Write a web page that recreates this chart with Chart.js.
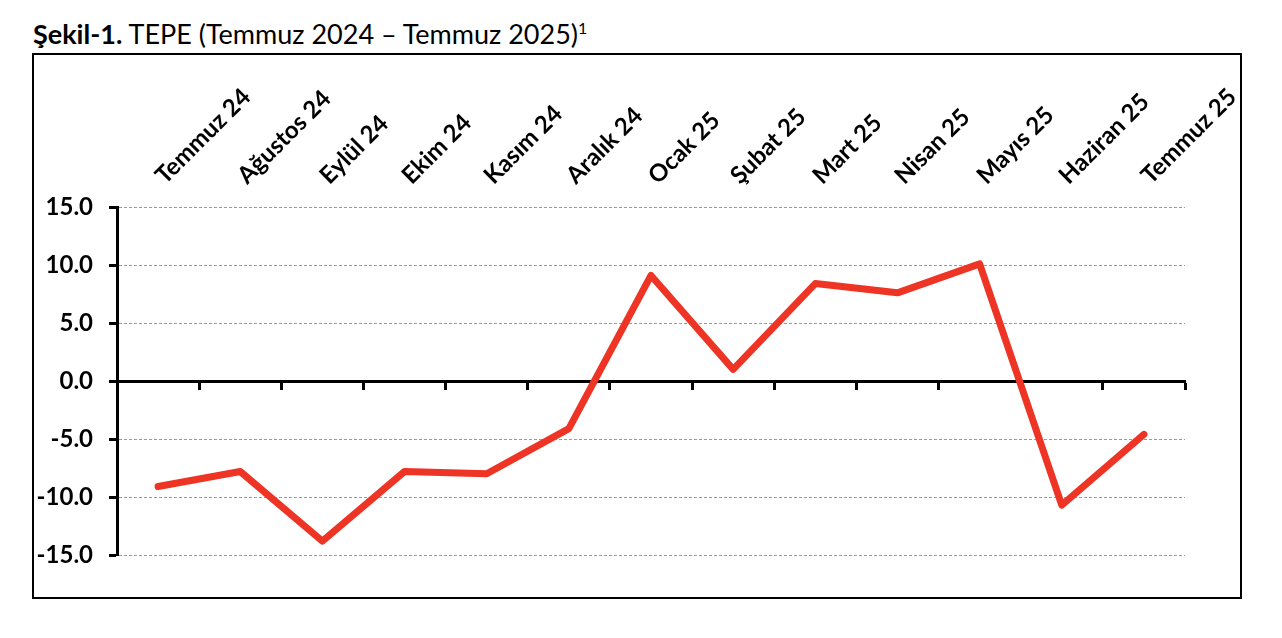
<!DOCTYPE html>
<html lang="tr">
<head>
    <meta charset="UTF-8">
    <title>Şekil-1. TEPE</title>
    <script src="https://cdn.jsdelivr.net/npm/chart.js"></script>
    <style>
        body { margin: 0; background: #fff; font-family: Lato, "Open Sans", sans-serif; }
        .chart-title { position: absolute; left: 33px; top: 17px; font-size: 27px; color: #000; white-space: nowrap; }
        .chart-title sup { font-size: 16px; }
        .chart-box { position: absolute; left: 32px; top: 53px; width: 1206px; height: 542px; border: 2px solid #000; }
    </style>
</head>
<body>
    <div class="chart-title"><b>Şekil-1.</b> TEPE (Temmuz 2024 – Temmuz 2025)<sup>1</sup></div>
    <div class="chart-box">
        <canvas id="tepeChart" width="1206" height="542"></canvas>
    </div>
    <script>
        // aylar ve TEPE değerleri
        const months = ['Temmuz 24', 'Ağustos 24', 'Eylül 24', 'Ekim 24', 'Kasım 24', 'Aralık 24',
            'Ocak 25', 'Şubat 25', 'Mart 25', 'Nisan 25', 'Mayıs 25', 'Haziran 25', 'Temmuz 25'];
        const tepeValues = [-9.1, -7.8, -13.8, -7.8, -8.0, -4.1, 9.1, 1.0, 8.4, 7.6, 10.1, -10.7, -4.6];
        const yTicks = [-15, -10, -5, 0, 5, 10, 15];

        const ctx = document.getElementById('tepeChart').getContext('2d');
        new Chart(ctx, {
            type: 'line',
            data: {
                labels: months,
                datasets: [{
                    data: tepeValues,
                    borderColor: '#EE3424',
                    borderWidth: 7,
                    borderJoinStyle: 'round',
                    borderCapStyle: 'round',
                    pointRadius: 0,
                    tension: 0,
                    xAxisID: 'x',
                    yAxisID: 'y'
                }]
            },
            options: {
                responsive: false,
                animation: false,
                layout: { padding: { left: 0, top: 0, right: 55, bottom: 42 } },
                plugins: { legend: { display: false }, tooltip: { enabled: false } },
                scales: {
                    x: {
                        type: 'category',
                        position: { y: 0 },
                        offset: true,
                        grid: {
                            offset: true,
                            drawOnChartArea: false,
                            drawTicks: true,
                            tickLength: 7,
                            tickWidth: 3,
                            tickColor: '#000'
                        },
                        border: { display: true, color: '#000', width: 3 },
                        ticks: { display: false }
                    },
                    x2: {
                        type: 'category',
                        position: 'top',
                        labels: months,
                        offset: true,
                        grid: { display: false, drawTicks: false },
                        border: { display: false },
                        ticks: {
                            autoSkip: false,
                            minRotation: 45,
                            maxRotation: 45,
                            padding: 17,
                            labelOffset: 22,
                            color: '#000',
                            font: { family: 'Lato', weight: 'bold', size: 24 }
                        },
                        afterFit: function (scale) {
                            scale.height = 152;
                            scale.paddingLeft = 0;
                            scale.paddingRight = 0;
                        }
                    },
                    y: {
                        min: -15,
                        max: 15,
                        afterBuildTicks: function (scale) {
                            scale.ticks = yTicks.map(v => ({ value: v }));
                        },
                        grid: {
                            color: '#9a9a9a',
                            lineWidth: 1,
                            drawTicks: true,
                            tickLength: 8,
                            tickWidth: 3,
                            tickColor: '#000'
                        },
                        border: { display: true, color: '#000', width: 3, dash: [3, 2] },
                        ticks: {
                            padding: 16,
                            color: '#000',
                            font: { family: 'Lato', weight: 'bold', size: 24 },
                            callback: function (value) { return Number(value).toFixed(1); }
                        },
                        afterFit: function (scale) {
                            scale.width = 83;
                        }
                    }
                }
            }
        });
    </script>
</body>
</html>
